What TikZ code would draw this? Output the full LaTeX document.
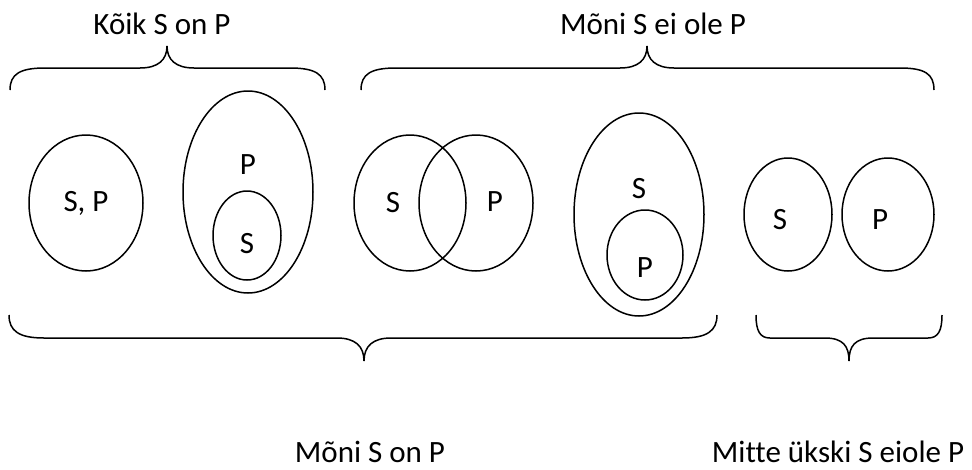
\documentclass[tikz,border=0pt]{standalone}
\usepackage{fontspec}
\setmainfont[Ligatures=NoCommon]{Carlito}
\usetikzlibrary{shapes.geometric}
\tikzset{
  ell/.style={draw, ellipse, line width=1.5pt, inner sep=0pt},
  lbl/.style={inner sep=0pt, font=\fontsize{31}{36}\selectfont},
  brc/.style={line width=1.5pt}
}
\begin{document}
\begin{tikzpicture}[x=1pt,y=-1pt]
\useasboundingbox (0,0) rectangle (972,469);
% ellipses
\node[ell, minimum width=114pt, minimum height=136pt] (e1) at (86,203) {};
\node[ell, minimum width=130pt, minimum height=202pt] (e2) at (248,192) {};
\node[ell, minimum width=68pt, minimum height=89pt] (e2i) at (247,235.5) {};
\node[ell, minimum width=112pt, minimum height=136pt] (v1) at (410,203) {};
\node[ell, minimum width=114pt, minimum height=136pt] (v2) at (476,203) {};
\node[ell, minimum width=130pt, minimum height=203pt] (e4) at (639,214.5) {};
\node[ell, minimum width=76pt, minimum height=90pt] (e4i) at (645,255) {};
\node[ell, minimum width=88pt, minimum height=113pt] (d1) at (788,214.5) {};
\node[ell, minimum width=92pt, minimum height=113pt] (d2) at (888,214.5) {};
% labels inside
\node[lbl] (t1) at (86,203) {S, P};
\node[lbl] (t2) at (248,165) {P};
\node[lbl] (t3) at (247,244) {S};
\node[lbl] (t4) at (393,203) {S};
\node[lbl] (t5) at (495,202) {P};
\node[lbl] (t6) at (639,189) {S};
\node[lbl] (t7) at (645,268) {P};
\node[lbl] (t8) at (780,220) {S};
\node[lbl] (t9) at (880,220) {P};
% titles
\node[lbl] (h1) at (162,24) {Kõik S on P};
\node[lbl] (h2) at (653,24) {Mõni S ei ole P};
\node[lbl] (h3) at (370,452) {Mõni S on P};
\node[lbl] (h4) at (838,452) {Mitte ükski S eiole P};
% top braces
\draw[brc] (10,90) .. controls (10,74) and (20,68) .. (45,68) -- (140,68)
  .. controls (158,68) and (167,60) .. (167,46)
  .. controls (167,60) and (176,68) .. (194,68) -- (290,68)
  .. controls (315,68) and (325,74) .. (325,90);
\draw[brc] (361,90) .. controls (361,74) and (371,68) .. (396,68) -- (620,68)
  .. controls (638,68) and (647,60) .. (647,46)
  .. controls (647,60) and (656,68) .. (674,68) -- (900,68)
  .. controls (925,68) and (934,74) .. (934,90);
% bottom braces
\draw[brc] (9,315) .. controls (9,331) and (19,338) .. (44,338) -- (337,338)
  .. controls (355,338) and (364,346) .. (364,361)
  .. controls (364,346) and (373,338) .. (391,338) -- (682,338)
  .. controls (707,338) and (717,331) .. (717,315);
\draw[brc] (756,315) .. controls (756,331) and (760,338) .. (770,338) -- (825,338)
  .. controls (843,338) and (849,346) .. (849,361)
  .. controls (849,346) and (855,338) .. (873,338) -- (928,338)
  .. controls (938,338) and (942,331) .. (942,315);
\end{tikzpicture}
\end{document}
